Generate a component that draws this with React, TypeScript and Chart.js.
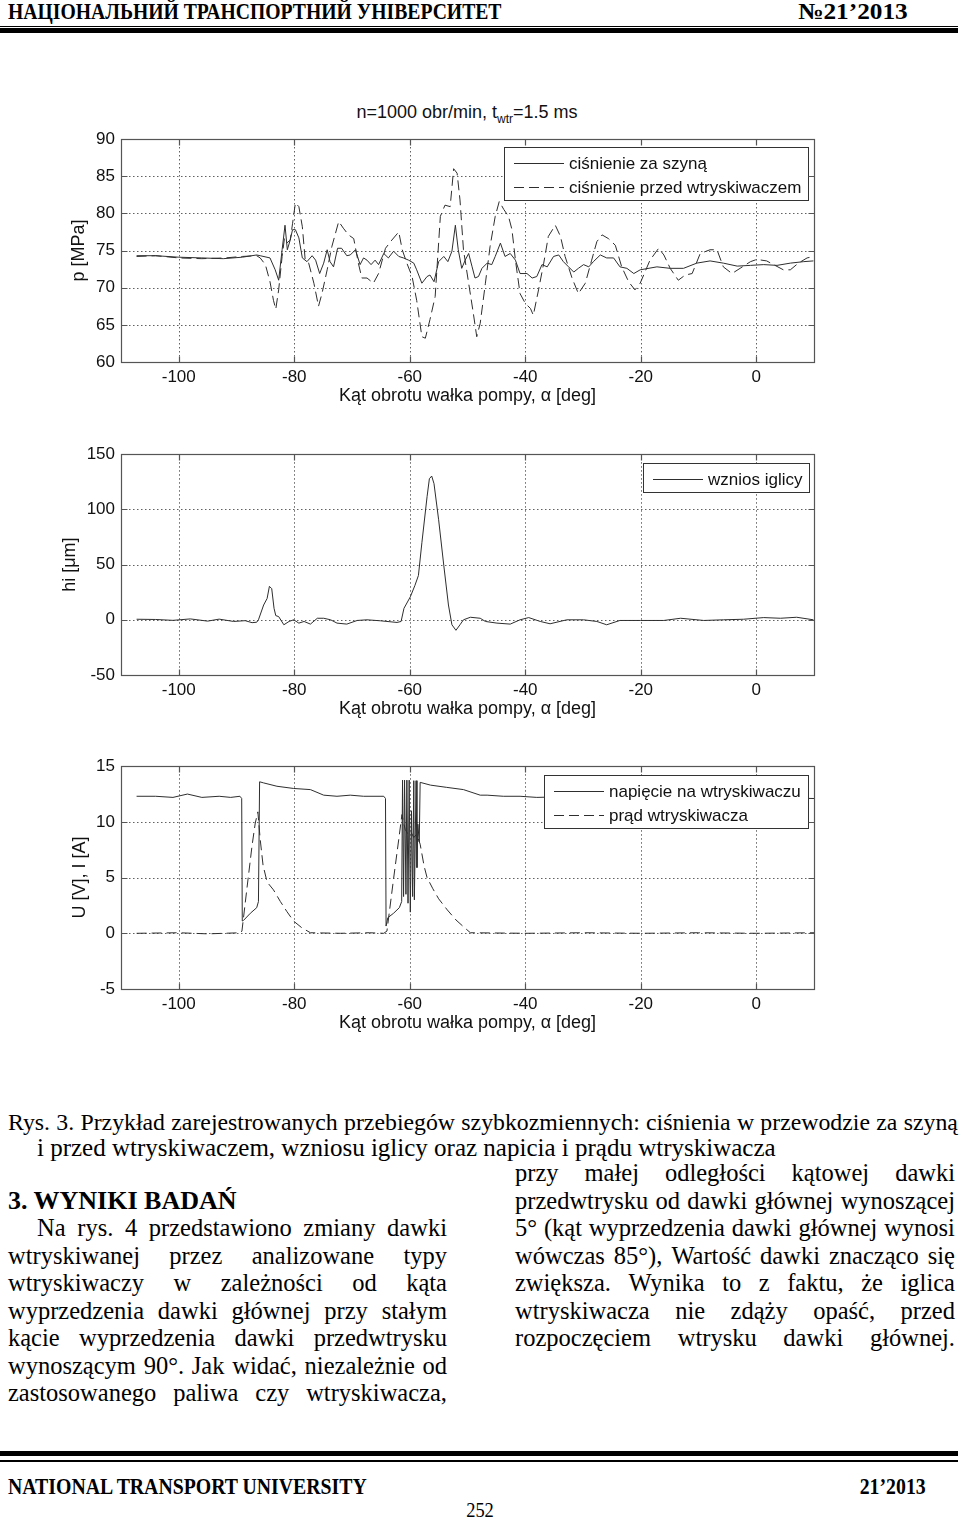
import React, { useEffect, useRef } from 'react';
import { Chart, registerables } from 'chart.js';

Chart.register(...registerables);

const SANS = '"Liberation Sans", Arial, Helvetica, sans-serif';
const SERIF = '"Liberation Serif", "Times New Roman", Times, serif';

// ---------- shared x axis ----------
const X_MIN = -110;
const X_MAX = 10;
const X_TICKS = [-100, -80, -60, -40, -20, 0];
const X_TITLE = 'Kąt obrotu wałka pompy, α [deg]';

// ---------- panel 1: pressure ----------
const P_TICKS = [60, 65, 70, 75, 80, 85, 90];
const railAngle = [
  -107.3, -104, -100, -96, -92.3, -89, -86.5, -85.9, -84.2, -83.3,
  -82.7, -82.1, -81.6, -81.2, -80.7, -80.3, -79.8, -79.2, -78.6, -77.8,
  -76.9, -76.3, -75.6, -74.9, -74.3, -73.8, -73.2, -72.5, -71.8, -70.9,
  -70.3, -69.4, -68.6, -68.0, -67.4, -66.7, -66.0, -65.4, -64.5, -63.7,
  -62.8, -61.9, -61.1, -60.2, -59.3, -58.8, -57.9, -57.0, -56.5, -55.8,
  -55.0, -54.1, -53.4, -52.7, -52.1, -51.6, -51.0, -50.4, -49.8, -49.2,
  -48.7, -48.1, -47.5, -46.6, -45.8, -45.2, -44.3, -43.5, -42.6, -41.7,
  -40.9, -39.7, -38.8, -38.0, -37.1, -36.2, -35.1, -34.2, -33.4, -32.5,
  -31.6, -30.8, -29.9, -29.0, -28.2, -27.0, -25.9, -24.7, -23.6, -22.4,
  -21.2, -20.1, -17.2, -14.9, -12.6, -10.3, -8.0, -5.7, -3.3, -1.0,
  1.3, 3.6, 5.9, 8.2, 9.9,
];
const railPressure = [
  74.3, 74.3, 74.1, 74.0, 73.9, 74.1, 74.4, 74.3, 74.0, 72.4,
  71.0, 75.1, 78.4, 75.1, 76.4, 77.8, 77.8, 76.7, 74.0, 73.5,
  74.3, 73.7, 71.9, 73.3, 75.1, 73.5, 72.8, 75.3, 75.3, 74.3,
  74.4, 75.1, 73.1, 74.0, 73.7, 73.1, 73.7, 73.1, 74.6, 74.0,
  74.9, 74.2, 74.0, 73.7, 73.3, 72.4, 70.6, 71.5, 71.7, 70.8,
  73.5, 74.2, 73.5, 74.9, 78.4, 75.1, 72.6, 73.7, 74.6, 72.8,
  71.3, 71.5, 72.6, 73.3, 73.1, 74.2, 76.0, 74.2, 74.6, 73.7,
  71.9, 71.9, 71.3, 71.5, 73.1, 72.8, 74.2, 74.4, 73.5, 72.8,
  72.1, 72.6, 73.1, 72.8, 73.5, 74.4, 74.0, 74.0, 72.8, 72.6,
  71.9, 72.4, 72.8, 72.6, 72.6, 73.3, 73.6, 73.3, 72.9, 73.0,
  73.1, 73.0, 73.3, 73.5, 73.6,
];
const nozzleAngle = [
  -107.3, -104, -100, -96, -92, -89, -86.5, -85.9, -85.0, -84.2,
  -83.6, -83.2, -82.7, -82.1, -81.7, -81.3, -80.7, -80.3, -79.8, -79.2,
  -78.6, -78.1, -77.5, -76.6, -75.8, -75.2, -74.3, -73.5, -72.3, -71.5,
  -70.6, -69.7, -68.9, -68.3, -67.4, -66.3, -65.4, -64.2, -63.1, -61.9,
  -61.3, -60.5, -59.6, -58.8, -57.9, -57.3, -56.5, -55.6, -54.7, -53.9,
  -53.0, -52.4, -51.8, -51.3, -50.7, -49.8, -49.0, -48.4, -47.8, -46.9,
  -46.1, -45.2, -44.5, -43.7, -42.9, -42.3, -41.7, -40.9, -40.0, -39.1,
  -38.6, -37.7, -36.8, -36.0, -34.8, -33.9, -33.1, -31.9, -30.8, -29.6,
  -28.5, -27.6, -26.7, -25.6, -24.4, -23.3, -22.1, -21.0, -20.1, -18.4,
  -16.9, -16.0, -14.9, -13.5, -12.3, -11.1, -9.7, -8.0, -6.8, -5.7,
  -4.2, -2.8, -1.0, 0.1, 1.8, 3.0, 4.7, 5.9, 7.3, 8.8,
  10.0,
];
const nozzlePressure = [
  74.2, 74.3, 74.0, 73.9, 74.0, 74.2, 74.3, 74.0, 73.1, 70.8,
  68.3, 67.1, 69.7, 74.2, 76.6, 76.0, 76.4, 78.6, 81.4, 80.9,
  78.2, 73.7, 73.3, 70.6, 67.5, 69.2, 72.4, 75.5, 78.9, 78.0,
  77.1, 76.6, 73.3, 71.3, 71.3, 70.6, 71.9, 75.3, 76.4, 77.5,
  75.1, 73.3, 71.5, 68.3, 63.4, 63.2, 65.7, 68.8, 79.6, 81.1,
  80.9, 86.0, 85.4, 81.8, 75.1, 70.6, 66.6, 63.4, 65.2, 70.6,
  75.5, 79.6, 81.6, 80.5, 79.6, 77.8, 73.7, 69.2, 67.9, 67.2,
  66.3, 69.7, 73.3, 76.9, 78.4, 76.9, 74.2, 71.3, 69.2, 70.6,
  73.7, 76.2, 77.1, 76.6, 75.7, 72.8, 70.8, 69.7, 70.6, 73.7,
  75.3, 74.4, 72.6, 71.0, 71.7, 71.9, 74.6, 75.1, 75.1, 72.8,
  71.9, 72.6, 73.5, 73.8, 73.6, 73.1, 72.4, 72.4, 73.3, 74.0,
  74.2,
];

// ---------- panel 2: needle lift ----------
const LIFT_TICKS = [-50, 0, 50, 100, 150];
const liftAngle = [
  -107.3, -104, -101, -98, -95, -93, -90.5, -88.5, -87.3, -86.5,
  -86.2, -85.3, -84.7, -84.3, -83.9, -83.5, -83.2, -82.7, -81.8, -80.9,
  -80.1, -79.2, -78.3, -77.2, -76.0, -74.9, -73.7, -72.6, -70.9, -69.1,
  -67.4, -65.1, -62.2, -61.5, -61.0, -59.9, -59.1, -58.5, -57.9, -57.0,
  -56.6, -56.2, -55.8, -55.0, -54.1, -53.3, -52.7, -52.0, -51.3, -50.7,
  -49.5, -47.8, -46.9, -44.9, -42.6, -40.9, -39.4, -37.4, -35.7, -32.8,
  -29.9, -27.6, -25.9, -23.6, -20, -16.0, -13.1, -9.1, -5.7, -2.2,
  1.3, 4.2, 7.0, 9.9,
];
const liftValue = [
  0.5, 0.3, -0.5, 0.8, -1.2, 0.6, -1.5, -0.8, -2.6, -2.2,
  0, 13.4, 19.3, 30.3, 28.2, 10.4, 3.8, 2.9, -4.5, -1.5,
  0, -3, -1.5, -3.9, 1.4, 1.4, 0, -3, -3.9, -0.6,
  0, -0.9, -2.4, -1.5, 10.4, 20.8, 31.2, 40.1, 69.8, 111.5,
  127.8, 130.2, 123.3, 90.6, 49.0, 13.4, -4.5, -9.5, -4.5, 0,
  2.3, 1.4, -1.5, -3, -3.9, 0, 2, -1.5, -3.6, 0,
  0, -1.5, -4.5, -0.6, -0.6, -0.6, 1.4, -0.6, 0, 0.5,
  2, 1.4, 2.3, 0,
];

// ---------- panel 3: voltage & current ----------
const UI_TICKS = [-5, 0, 5, 10, 15];
const voltAngle = [
  -107.3, -104, -101, -98.5, -96, -93, -91, -89.4, -89.1, -89.0,
  -88.8, -87.6, -86.5, -86.2, -86.0, -85.3, -83.0, -80.1, -77.2, -74.9,
  -72.6, -70.3, -68.0, -64.5, -64.2, -64.1, -63.8, -62.8, -61.8, -61.4,
  -61.25, -61.07, -60.9, -60.66, -60.5, -60.3, -60.1, -59.9, -59.7, -59.5,
  -59.3, -59.2, -58.9, -58.75, -58.6, -58.35, -58.2, -56.4, -53.6, -50.7,
  -47.8, -46.6, -43.8, -40.9, -38.0, -30, -20, -10, 0, 10,
];
const voltValue = [
  12.3, 12.3, 12.2, 12.5, 12.2, 12.3, 12.2, 12.3, 12.1, 1.1,
  1.15, 1.8, 2.3, 2.85, 13.6, 13.5, 13.2, 13.0, 12.9, 12.4,
  12.3, 12.4, 12.3, 12.3, 12.1, 0.65, 1.4, 1.8, 2.3, 2.85,
  13.75, 3.3, 13.75, 3.5, 13.75, 2.7, 13.75, 1.9, 11, 3.3,
  13.7, 3.0, 13.7, 5.9, 9.8, 8.2, 13.55, 13.3, 13.1, 12.9,
  12.4, 12.4, 12.3, 12.3, 12.2, 12.3, 12.2, 12.2, 12.2, 12.1,
];
const currAngle = [
  -107.3, -100, -95, -89.3, -89.06, -88.2, -87.3, -86.75, -86.3, -85.9,
  -85.4, -84.7, -83.6, -82.4, -81.3, -80.1, -78.7, -77.2, -72, -67,
  -64.5, -63.95, -62.8, -61.9, -61.35, -60.8, -60.3, -59.8, -59.3, -58.8,
  -58.2, -57.5, -57.0, -56.0, -55.0, -53.5, -52.0, -50.5, -49.5, -40,
  -30, -20, -10, 0, 10,
];
const currValue = [
  0, 0.05, -0.05, 0.05, 0.2, 4.0, 7.9, 9.9, 10.9, 8.45,
  6.1, 4.6, 3.9, 2.85, 1.97, 1.09, 0.5, 0.05, 0, 0.05,
  0, 0.2, 4.9, 8.45, 10.66, 9.33, 8.9, 9.1, 8.6, 8.9,
  8.0, 6.0, 5.0, 4.0, 3.1, 2.1, 1.2, 0.5, 0.05, 0,
  0.05, 0, 0.05, 0, 0.05,
];

// ---------- page text ----------
const HEADER_LEFT = 'НАЦІОНАЛЬНИЙ ТРАНСПОРТНИЙ УНІВЕРСИТЕТ';
const HEADER_RIGHT = '№21’2013';
const FOOTER_LEFT = 'NATIONAL TRANSPORT UNIVERSITY';
const FOOTER_RIGHT = '21’2013';
const PAGE_NO = '252';
const CAPTION_1 = 'Rys. 3. Przykład zarejestrowanych przebiegów szybkozmiennych: ciśnienia w przewodzie za szyną';
const CAPTION_2 = 'i przed wtryskiwaczem, wzniosu iglicy oraz napicia i prądu wtryskiwacza';
const SECTION_TITLE = '3. WYNIKI BADAŃ';
const LEFT_COL = [
  'Na rys. 4 przedstawiono zmiany dawki',
  'wtryskiwanej przez analizowane typy',
  'wtryskiwaczy w zależności od kąta',
  'wyprzedzenia dawki głównej przy stałym',
  'kącie wyprzedzenia dawki przedwtrysku',
  'wynoszącym 90°. Jak widać, niezależnie od',
  'zastosowanego paliwa czy wtryskiwacza,',
];
const RIGHT_COL = [
  'przy małej odległości kątowej dawki',
  'przedwtrysku od dawki głównej wynoszącej',
  '5° (kąt wyprzedzenia dawki głównej wynosi',
  'wówczas 85°), Wartość dawki znacząco się',
  'zwiększa. Wynika to z faktu, że iglica',
  'wtryskiwacza nie zdąży opaść, przed',
  'rozpoczęciem wtrysku dawki głównej.',
];

// ---------- matlab-like frame, grid, legend ----------
const matlabFrame = {
  id: 'matlabFrame',
  beforeDatasetsDraw(chart: any) {
    const { ctx, chartArea: a, scales } = chart;
    const xs = scales.x;
    const ys = scales.y;
    ctx.save();
    ctx.strokeStyle = 'rgba(30,30,30,0.7)';
    ctx.lineWidth = 1;
    ctx.setLineDash([1.5, 2.5]);
    ctx.beginPath();
    xs.ticks.forEach((t: any) => {
      const px = Math.round(xs.getPixelForValue(t.value)) + 0.5;
      ctx.moveTo(px, a.top);
      ctx.lineTo(px, a.bottom);
    });
    ys.ticks.forEach((t: any) => {
      const py = Math.round(ys.getPixelForValue(t.value)) + 0.5;
      ctx.moveTo(a.left, py);
      ctx.lineTo(a.right, py);
    });
    ctx.stroke();
    ctx.restore();
  },
  afterDatasetsDraw(chart: any, _args: any, opts: any) {
    const { ctx, chartArea: a, scales } = chart;
    const xs = scales.x;
    const ys = scales.y;
    // legend
    ctx.save();
    ctx.font = `17px ${SANS}`;
    const items = chart.data.datasets.map((ds: any) => ({
      label: ds.label,
      dash: ds.borderDash || [],
      color: ds.borderColor,
    }));
    const tw = Math.max(...items.map((it: any) => ctx.measureText(it.label).width));
    const w = Math.round(65 + tw + 7);
    const h = 24 * items.length + 5;
    const left = Math.round(a.right - opts.insetRight - w);
    const top = Math.round(a.top + opts.insetTop);
    ctx.fillStyle = '#fff';
    ctx.fillRect(left, top, w, h);
    ctx.strokeStyle = '#333';
    ctx.lineWidth = 1;
    ctx.strokeRect(left + 0.5, top + 0.5, w, h);
    items.forEach((it: any, i: number) => {
      const cy = top + 16 + 24 * i;
      ctx.strokeStyle = it.color;
      ctx.setLineDash(it.dash);
      ctx.beginPath();
      ctx.moveTo(left + 10, Math.round(cy) + 0.5);
      ctx.lineTo(left + 60, Math.round(cy) + 0.5);
      ctx.stroke();
      ctx.setLineDash([]);
      ctx.fillStyle = '#111';
      ctx.textBaseline = 'middle';
      ctx.textAlign = 'left';
      ctx.fillText(it.label, left + 65, cy + 1);
    });
    ctx.restore();
    // frame and inward ticks
    ctx.save();
    ctx.strokeStyle = '#555';
    ctx.lineWidth = 1.2;
    const L = Math.round(a.left) + 0.5;
    const R = Math.round(a.right) + 0.5;
    const T = Math.round(a.top) + 0.5;
    const B = Math.round(a.bottom) + 0.5;
    ctx.strokeRect(L, T, R - L, B - T);
    ctx.beginPath();
    xs.ticks.forEach((t: any) => {
      const px = Math.round(xs.getPixelForValue(t.value)) + 0.5;
      ctx.moveTo(px, B);
      ctx.lineTo(px, B - 6);
      ctx.moveTo(px, T);
      ctx.lineTo(px, T + 6);
    });
    ys.ticks.forEach((t: any) => {
      const py = Math.round(ys.getPixelForValue(t.value)) + 0.5;
      ctx.moveTo(L, py);
      ctx.lineTo(L + 6, py);
      ctx.moveTo(R, py);
      ctx.lineTo(R - 6, py);
    });
    ctx.stroke();
    ctx.restore();
  },
};

type Series = { label: string; xs: number[]; ys: number[]; dashed: boolean };

function buildConfig(p: {
  series: Series[];
  yMin: number;
  yMax: number;
  yTicks: number[];
  yTitle: string;
  yTitlePad: number;
  padTop: number;
  insetRight: number;
  insetTop: number;
}): any {
  const tickFont = { family: SANS, size: 17 };
  const titleFont = { family: SANS, size: 18 };
  return {
    type: 'line',
    data: {
      datasets: p.series.map((s) => ({
        label: s.label,
        data: s.xs.map((x, i) => ({ x, y: s.ys[i] })),
        borderColor: '#2e2e2e',
        borderWidth: 1,
        borderDash: s.dashed ? [10, 5] : [],
        pointRadius: 0,
        tension: 0,
        fill: false,
      })),
    },
    options: {
      responsive: false,
      maintainAspectRatio: false,
      animation: false,
      events: [],
      layout: { padding: { top: p.padTop, right: 146, left: 0, bottom: 0 } },
      plugins: {
        legend: { display: false },
        tooltip: { enabled: false },
        matlabFrame: { insetRight: p.insetRight, insetTop: p.insetTop },
      },
      scales: {
        x: {
          type: 'linear',
          min: X_MIN,
          max: X_MAX,
          afterBuildTicks: (s: any) => {
            s.ticks = X_TICKS.map((v) => ({ value: v }));
          },
          afterFit: (s: any) => {
            s.height = 48;
          },
          grid: { display: false, drawTicks: false },
          border: { display: false },
          ticks: {
            color: '#111',
            font: tickFont,
            padding: 4.8,
            maxRotation: 0,
            autoSkip: false,
            callback: (v: any) => String(v),
          },
          title: {
            display: true,
            text: X_TITLE,
            color: '#111',
            font: titleFont,
            padding: { top: 0, bottom: 3.2 },
          },
        },
        y: {
          type: 'linear',
          min: p.yMin,
          max: p.yMax,
          afterBuildTicks: (s: any) => {
            s.ticks = p.yTicks.map((v) => ({ value: v }));
          },
          afterFit: (s: any) => {
            s.width = 121;
          },
          grid: { display: false, drawTicks: false },
          border: { display: false },
          ticks: {
            color: '#111',
            font: tickFont,
            padding: 6,
            autoSkip: false,
            callback: (v: any) => String(v),
          },
          title: {
            display: true,
            text: p.yTitle,
            color: '#111',
            font: titleFont,
            padding: { top: p.yTitlePad, bottom: 0 },
          },
        },
      },
    },
    plugins: [matlabFrame],
  };
}

const pressureConfig = () =>
  buildConfig({
    series: [
      { label: 'ciśnienie za szyną', xs: railAngle, ys: railPressure, dashed: false },
      { label: 'ciśnienie przed wtryskiwaczem', xs: nozzleAngle, ys: nozzlePressure, dashed: true },
    ],
    yMin: 60,
    yMax: 90,
    yTicks: P_TICKS,
    yTitle: 'p [MPa]',
    yTitlePad: 68.2,
    padTop: 19,
    insetRight: 6,
    insetTop: 8,
  });

const liftConfig = () =>
  buildConfig({
    series: [{ label: 'wznios iglicy', xs: liftAngle, ys: liftValue, dashed: false }],
    yMin: -50,
    yMax: 150,
    yTicks: LIFT_TICKS,
    yTitle: 'hi [μm]',
    yTitlePad: 59.2,
    padTop: 13,
    insetRight: 5,
    insetTop: 9,
  });

const electricConfig = () =>
  buildConfig({
    series: [
      { label: 'napięcie na wtryskiwaczu', xs: voltAngle, ys: voltValue, dashed: false },
      { label: 'prąd wtryskiwacza', xs: currAngle, ys: currValue, dashed: true },
    ],
    yMin: -5,
    yMax: 15,
    yTicks: UI_TICKS,
    yTitle: 'U [V], I [A]',
    yTitlePad: 69.2,
    padTop: 13,
    insetRight: 6,
    insetTop: 9,
  });

function PlotCanvas({ top, height, makeConfig }: { top: number; height: number; makeConfig: () => any }) {
  const ref = useRef<HTMLCanvasElement>(null);
  useEffect(() => {
    if (!ref.current) return;
    const chart = new Chart(ref.current, makeConfig());
    return () => chart.destroy();
  }, []);
  return (
    <canvas
      ref={ref}
      width={960}
      height={height}
      style={{ position: 'absolute', left: 0, top, width: 960, height, display: 'block' }}
    />
  );
}

const BODY_SIZE = 24.5;

function JLine({ text, left, right, y, size = BODY_SIZE }: { text: string; left: number; right: number; y: number; size?: number }) {
  const words = text.split(' ');
  return (
    <div
      style={{
        position: 'absolute',
        left,
        width: right - left,
        top: y - 14,
        height: 28,
        lineHeight: '28px',
        display: 'flex',
        justifyContent: 'space-between',
        fontSize: size,
        whiteSpace: 'nowrap',
      }}
    >
      {words.map((w, i) => (
        <span key={i}>{w}</span>
      ))}
    </div>
  );
}

function Line({ text, left, y, bold, size = BODY_SIZE }: { text: string; left: number; y: number; bold?: boolean; size?: number }) {
  return (
    <div
      style={{
        position: 'absolute',
        left,
        top: y - 14,
        lineHeight: '28px',
        fontSize: size,
        fontWeight: bold ? 700 : 400,
        whiteSpace: 'nowrap',
      }}
    >
      {text}
    </div>
  );
}

export default function App() {
  const leftYs = [1228, 1256, 1283, 1311, 1338, 1366, 1393];
  const rightYs = [1173, 1201, 1228, 1256, 1283, 1311, 1338];
  return (
    <div
      style={{
        position: 'absolute',
        left: 0,
        top: 0,
        width: 960,
        height: 1518,
        overflow: 'hidden',
        background: '#fff',
        color: '#000',
        fontFamily: SERIF,
      }}
    >
      {/* header */}
      <div
        style={{
          position: 'absolute',
          left: 8,
          top: -2,
          lineHeight: '28px',
          fontSize: 23,
          fontWeight: 700,
          whiteSpace: 'nowrap',
          transform: 'scaleX(0.855)',
          transformOrigin: 'left top',
        }}
      >
        {HEADER_LEFT}
      </div>
      <div
        style={{
          position: 'absolute',
          right: 52,
          top: -2,
          lineHeight: '28px',
          fontSize: 23,
          fontWeight: 700,
          whiteSpace: 'nowrap',
          transform: 'scaleX(1.1)',
          transformOrigin: 'right top',
        }}
      >
        {HEADER_RIGHT}
      </div>
      <div style={{ position: 'absolute', left: 0, top: 26, width: 958, height: 1, background: '#000' }} />
      <div style={{ position: 'absolute', left: 0, top: 28, width: 958, height: 5, background: '#000' }} />

      {/* panel title */}
      <div
        style={{
          position: 'absolute',
          left: 467,
          top: 102,
          transform: 'translateX(-50%)',
          fontFamily: SANS,
          fontSize: 18,
          lineHeight: '21px',
          whiteSpace: 'nowrap',
          color: '#111',
        }}
      >
        n=1000 obr/min, t
        <span style={{ fontSize: 12, position: 'relative', top: 5 }}>wtr</span>
        =1.5 ms
      </div>

      <PlotCanvas top={120} height={290} makeConfig={pressureConfig} />
      <PlotCanvas top={438} height={285} makeConfig={liftConfig} />
      <PlotCanvas top={750} height={287} makeConfig={electricConfig} />

      {/* caption */}
      <JLine text={CAPTION_1} left={8} right={958} y={1122} size={23.8} />
      <Line text={CAPTION_2} left={37} y={1148} size={25} />

      {/* columns */}
      <Line text={SECTION_TITLE} left={8} y={1201} bold size={26} />
      {LEFT_COL.map((t, i) => (
        <JLine key={'l' + i} text={t} left={i === 0 ? 37 : 8} right={447} y={leftYs[i]} />
      ))}
      {RIGHT_COL.map((t, i) => (
        <JLine key={'r' + i} text={t} left={515} right={955} y={rightYs[i]} />
      ))}

      {/* footer */}
      <div style={{ position: 'absolute', left: 0, top: 1451, width: 958, height: 5, background: '#000' }} />
      <div style={{ position: 'absolute', left: 0, top: 1460, width: 958, height: 2, background: '#000' }} />
      <div
        style={{
          position: 'absolute',
          left: 8,
          top: 1473,
          lineHeight: '28px',
          fontSize: 23,
          fontWeight: 700,
          whiteSpace: 'nowrap',
          transform: 'scaleX(0.86)',
          transformOrigin: 'left top',
        }}
      >
        {FOOTER_LEFT}
      </div>
      <div
        style={{
          position: 'absolute',
          right: 34,
          top: 1473,
          lineHeight: '28px',
          fontSize: 23,
          fontWeight: 700,
          whiteSpace: 'nowrap',
          transform: 'scaleX(0.86)',
          transformOrigin: 'right top',
        }}
      >
        {FOOTER_RIGHT}
      </div>
      <div
        style={{
          position: 'absolute',
          left: 480,
          top: 1496,
          lineHeight: '28px',
          fontSize: 21,
          whiteSpace: 'nowrap',
          transform: 'translateX(-50%) scaleX(0.88)',
        }}
      >
        {PAGE_NO}
      </div>
    </div>
  );
}
